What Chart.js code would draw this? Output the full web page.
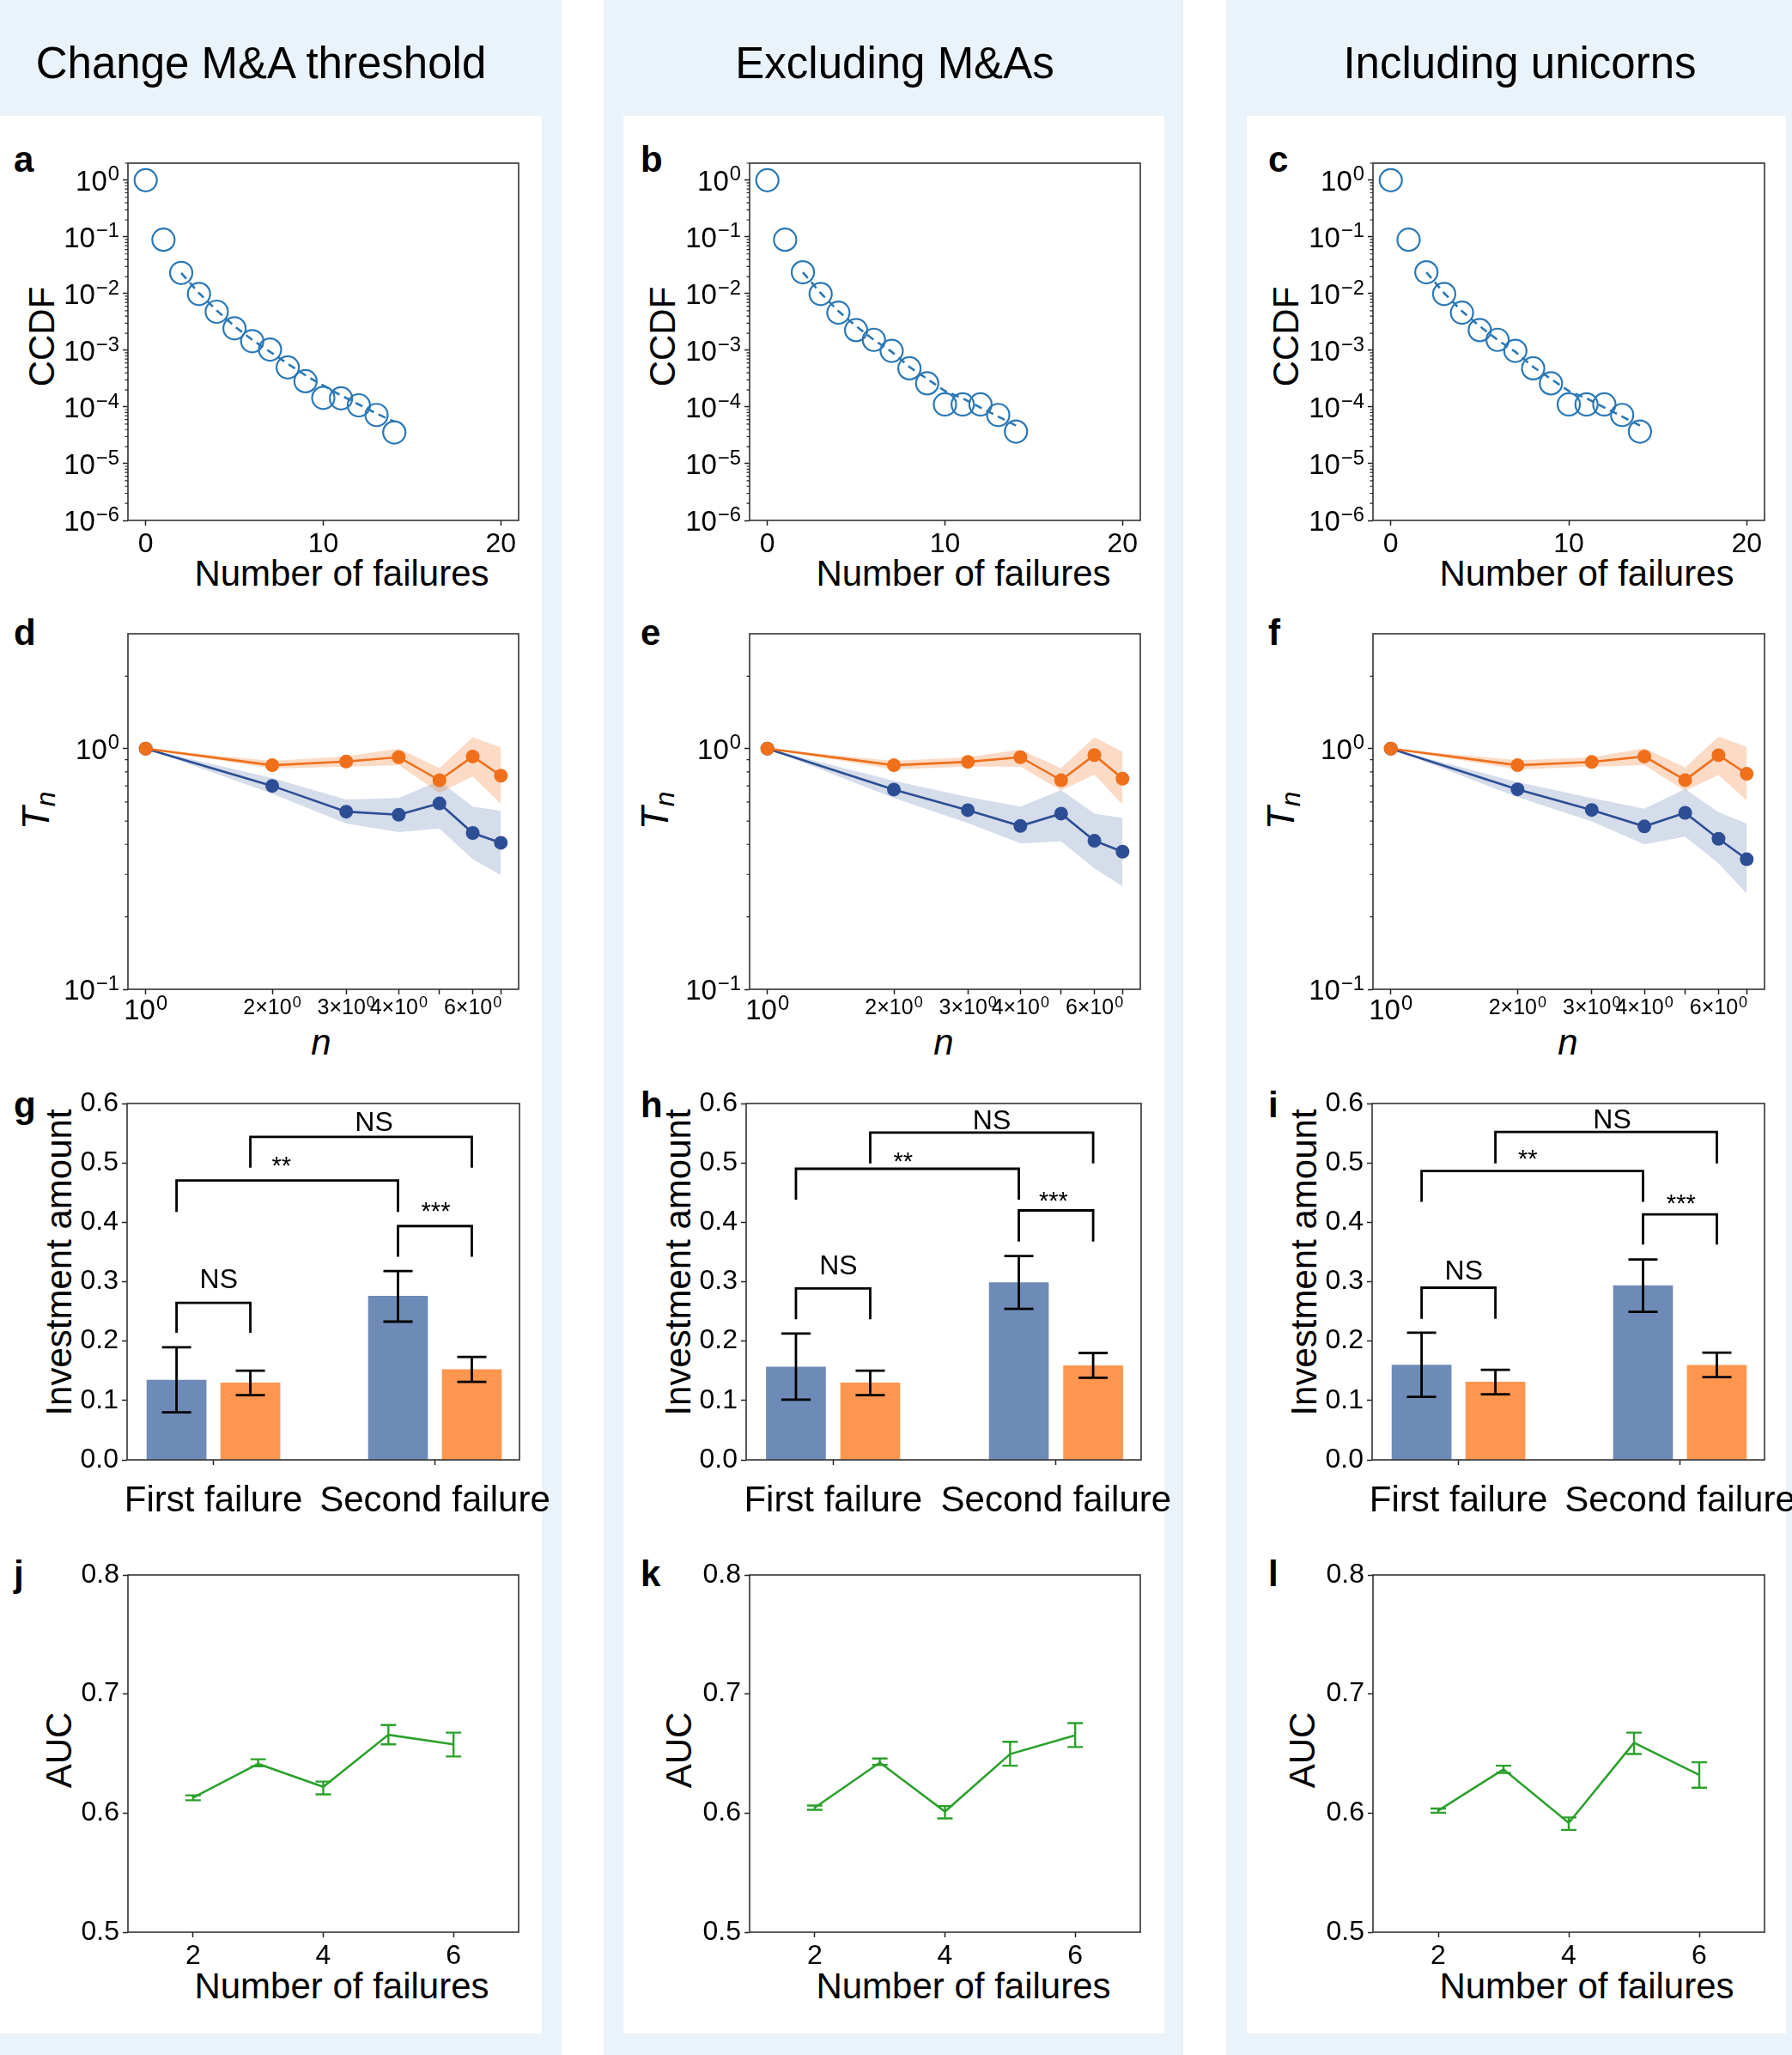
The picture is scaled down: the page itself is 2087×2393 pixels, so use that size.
<!DOCTYPE html>
<html>
<head>
<meta charset="utf-8">
<title>Robustness checks</title>
<script src="https://cdn.jsdelivr.net/npm/chart.js@4.4.1/dist/chart.umd.min.js"></script>
<style>
  html, body { margin:0; padding:0; background:#ffffff; }
  #root { position:relative; width:2087px; height:2393px; overflow:hidden; background:#ffffff;
          font-family:"Liberation Sans", Arial, Helvetica, sans-serif; color:#000; }
  .col { position:absolute; top:0; height:2393px; background:#eaf2fa; }
  .panel { position:absolute; background:#ffffff; }
  .t { position:absolute; white-space:nowrap; line-height:1; }
  canvas { position:absolute; }
</style>
</head>
<body>
<div id="root"></div>
<script>
// ======================= DATA =======================
const columnTitles = ['Change M&A threshold', 'Excluding M&As', 'Including unicorns'];
const panelLetters = [['a','d','g','j'], ['b','e','h','k'], ['c','f','i','l']];

// ---- Row 1: CCDF of number of failures ----
const failuresX = [0,1,2,3,4,5,6,7,8,9,10,11,12,13,14];
const ccdfA = [1.0,0.0891,0.0232,0.00986,0.00479,0.00244,0.00145,0.00103,0.000499,0.000285,0.000145,0.000142,0.000107,0.0000723,0.0000356];
const ccdfB = [1.0,0.0891,0.0238,0.00986,0.00461,0.00227,0.00153,0.000977,0.000481,0.000261,0.000111,0.000111,0.000111,0.0000723,0.0000369];
const ccdfC = [1.0,0.0891,0.0238,0.00986,0.00461,0.00227,0.00153,0.000977,0.000481,0.000261,0.000111,0.000111,0.000111,0.0000723,0.0000369];
const fitX = [2,3,4,5,6,7,8,9,10,11,12,13,14];
const fitA = [0.0232,0.01023,0.00504,0.00266,0.00153,0.000942,0.000578,0.000363,0.000239,0.00016,0.000111,0.0000767,0.0000552];
const fitB = [0.0238,0.01023,0.00491,0.00266,0.00153,0.000942,0.00051,0.000313,0.000192,0.000142,0.000098,0.0000679,0.0000471];
const fitC = [0.0238,0.01023,0.00491,0.00266,0.00153,0.000942,0.00051,0.000313,0.000192,0.000142,0.000098,0.0000679,0.0000471];
const ccdfXTicks = [0, 10, 20];
const ccdfYTickValues = [1e-6, 1e-5, 1e-4, 1e-3, 1e-2, 1e-1, 1];
const ccdfYTickBase = ['10','10','10','10','10','10','10'];
const ccdfYTickExp  = ['\u22126','\u22125','\u22124','\u22123','\u22122','\u22121','0'];

// ---- Row 2: T_n ----
const nValues = [1,2,3,4,5,6,7];
const nTickBase = ['10','2\u00D710','3\u00D710','4\u00D710','','6\u00D710',''];
const nTickExp  = ['0','0','0','0','','0',''];
const tnYTickValues = [0.1, 1];
const tnYTickBase = ['10','10'];
const tnYTickExp  = ['\u22121','0'];

const tnBlueD     = [1,0.700,0.547,0.531,0.592,0.446,0.406];
const tnBlueLoD   = [1,0.650,0.488,0.450,0.466,0.347,0.298];
const tnBlueHiD   = [1,0.755,0.615,0.624,0.735,0.574,0.551];
const tnOrangeD   = [1,0.853,0.884,0.921,0.739,0.927,0.772];
const tnOrangeLoD = [1,0.826,0.842,0.853,0.655,0.765,0.590];
const tnOrangeHiD = [1,0.890,0.929,1.000,0.830,1.115,1.013];

const tnBlueE     = [1,0.676,0.555,0.477,0.537,0.414,0.373];
const tnBlueLoE   = [1,0.624,0.490,0.404,0.412,0.318,0.268];
const tnBlueHiE   = [1,0.735,0.630,0.574,0.672,0.537,0.515];
const tnOrangeE   = [1,0.853,0.881,0.921,0.739,0.940,0.750];
const tnOrangeLoE = [1,0.820,0.842,0.842,0.670,0.780,0.585];
const tnOrangeHiE = [1,0.890,0.920,0.990,0.830,1.115,0.970];

const tnBlueF     = [1,0.677,0.556,0.475,0.541,0.422,0.347];
const tnBlueLoF   = [1,0.629,0.498,0.400,0.431,0.333,0.250];
const tnBlueHiF   = [1,0.725,0.623,0.562,0.680,0.544,0.488];
const tnOrangeF   = [1,0.853,0.880,0.927,0.740,0.939,0.786];
const tnOrangeLoF = [1,0.819,0.842,0.853,0.668,0.776,0.610];
const tnOrangeHiF = [1,0.894,0.919,1.003,0.835,1.121,1.019];

// ---- Row 3: investment amount ----
const barCategories = ['First failure', 'Second failure'];
const investYTicks = [0, 0.1, 0.2, 0.3, 0.4, 0.5, 0.6];
const investBlueG = [0.1344, 0.2755], investBlueLoG = [0.0802, 0.2328], investBlueHiG = [0.1896, 0.3178];
const investOrangeG = [0.1296, 0.1522], investOrangeLoG = [0.1090, 0.1315], investOrangeHiG = [0.1502, 0.1733];
const investBlueH = [0.1565, 0.2986], investBlueLoH = [0.1013, 0.2544], investBlueHiH = [0.2126, 0.3432];
const investOrangeH = [0.1296, 0.1584], investOrangeLoH = [0.1090, 0.1382], investOrangeHiH = [0.1502, 0.1800];
const investBlueI = [0.1598, 0.2933], investBlueLoI = [0.1061, 0.2491], investBlueHiI = [0.2141, 0.3374];
const investOrangeI = [0.1310, 0.1594], investOrangeLoI = [0.1104, 0.1392], investOrangeHiI = [0.1517, 0.1805];
// significance brackets: bar index pairs (0 blue-first, 1 orange-first, 2 blue-second, 3 orange-second)
const bracketPairs  = [[0,1],[0,2],[1,3],[2,3]];
const bracketLabels = ['NS','**','NS','***'];
const bracketTopG = [0.2645,0.4704,0.5438,0.3936], bracketLegG = [0.214,0.4176,0.492,0.3418];
const bracketLabelYG = [0.305,0.5054,0.570,0.4286], bracketLabelXG = [0.024,0.307,0.725,1.004];
const bracketTopH = [0.2885,0.4901,0.551,0.420], bracketLegH = [0.2366,0.4382,0.4992,0.3677];
const bracketLabelYH = [0.3293,0.5126,0.5726,0.4464], bracketLabelXH = [0.024,0.314,0.712,0.989];
const bracketTopI = [0.2899,0.4862,0.552,0.4133], bracketLegI = [0.2376,0.4344,0.4992,0.3624];
const bracketLabelYI = [0.3206,0.5165,0.574,0.4416], bracketLabelXI = [0.024,0.313,0.694,1.005];

// ---- Row 4: AUC ----
const aucX = [2,3,4,5,6];
const aucXTicks = [2,4,6];
const aucYTicks = [0.5,0.6,0.7,0.8];
const aucJ = [0.6129,0.6414,0.6221,0.6658,0.6578], aucLoJ = [0.6108,0.6393,0.6157,0.6578,0.6476], aucHiJ = [0.6149,0.6452,0.6265,0.6740,0.6676];
const aucK = [0.6046,0.6424,0.6013,0.6496,0.6653], aucLoK = [0.6028,0.6404,0.5956,0.6398,0.6555], aucHiK = [0.6064,0.6458,0.6059,0.6599,0.6756];
const aucL = [0.6021,0.6368,0.5918,0.6591,0.6321], aucLoL = [0.6003,0.6337,0.5859,0.6496,0.6213], aucHiL = [0.6039,0.6398,0.5964,0.6676,0.6427];

// ======================= STYLE / LAYOUT =======================
const FONT = '"Liberation Sans", Arial, Helvetica, sans-serif';
const CCDF_BLUE = '#2a78b6';
const TN_BLUE = '#2d4e94', TN_ORANGE = '#ef6f1b';
const BLUE_BAND = 'rgba(45,78,148,0.2)', ORANGE_BAND = 'rgba(239,111,27,0.25)';
const BAR_BLUE = '#6e8ab7', BAR_ORANGE = '#fe964f';
const AUC_GREEN = '#2ca02c';
const SPINE = '#333333';
const TICK_SIZE = 32;
const GROUP_OFFSET = 1/6;
const BAR_PX = 69;

const COLS_X = [[149,604],[873,1328],[1599,2055]];
const BAR_COLS_X = [[148,605],[869,1329],[1598,2055]];
const ROWS_Y = [[190,606],[738,1152],[1285,1700],[1834,2250]];
const ML = 140, MR = 70, MT = 40, MB = 100;

const root = document.getElementById('root');

function rect(x, y, w, h, cls) {
  const d = document.createElement('div');
  d.className = cls;
  d.style.left = x + 'px'; d.style.top = y + 'px';
  d.style.width = w + 'px'; d.style.height = h + 'px';
  root.appendChild(d);
}
function textBaseline(html, cx, baseline, size, extra) {
  const d = document.createElement('div');
  d.className = 't';
  d.innerHTML = html;
  d.style.fontSize = size + 'px';
  d.style.left = cx + 'px';
  d.style.top = (baseline - 0.8465 * size) + 'px';
  d.style.transform = 'translateX(-50%)';
  if (extra) Object.assign(d.style, extra);
  root.appendChild(d);
}
function textLeft(html, left, baseline, size, extra) {
  const d = document.createElement('div');
  d.className = 't';
  d.innerHTML = html;
  d.style.fontSize = size + 'px';
  d.style.left = left + 'px';
  d.style.top = (baseline - 0.8465 * size) + 'px';
  if (extra) Object.assign(d.style, extra);
  root.appendChild(d);
}
function textRot(html, cx, cy, size, extra) {
  const d = document.createElement('div');
  d.className = 't';
  d.innerHTML = html;
  d.style.fontSize = size + 'px';
  d.style.left = cx + 'px';
  d.style.top = cy + 'px';
  d.style.transform = 'translate(-50%,-50%) rotate(-90deg)';
  if (extra) Object.assign(d.style, extra);
  root.appendChild(d);
}

// backgrounds
rect(0, 0, 654, 2393, 'col');
rect(703, 0, 675, 2393, 'col');
rect(1428, 0, 659, 2393, 'col');
rect(0, 135, 631, 2233, 'panel');
rect(726, 135, 630, 2233, 'panel');
rect(1452, 135, 628, 2233, 'panel');

// headers
const headerCX = [304, 1042, 1770];
columnTitles.forEach((t, i) => textBaseline(t.replace('&','&amp;'), headerCX[i], 91, 51));

// panel letters
const letterLeft = [16, 746, 1477];
const letterBase = [201, 752, 1302, 1848];
panelLetters.forEach((col, c) => col.forEach((ch, r) =>
  textLeft(ch, letterLeft[c], letterBase[r], 42, {fontWeight: 'bold'})));

// axis titles
const ccdfLabelX = [48.8, 772, 1498];
const tnLabelX = [45, 766, 1495];
const invLabelX = [68.5, 789.5, 1518.5];
const aucLabelX = [69, 791, 1517];
const numFailCX = [398, 1122, 1848];
const nLabelCX = [374, 1099, 1826];
for (let c = 0; c < 3; c++) {
  textRot('CCDF', ccdfLabelX[c], 392, 42);
  textBaseline('Number of failures', numFailCX[c], 683, 42);
  textRot('<i>T</i><sub style="font-size:0.72em;font-style:italic;vertical-align:-0.2em">n</sub>', tnLabelX[c], 944, 44);
  textBaseline('<i>n</i>', nLabelCX[c], 1229, 42);
  textRot('Investment amount', invLabelX[c], 1470, 42);
  textRot('AUC', aucLabelX[c], 2038, 42);
  textBaseline('Number of failures', numFailCX[c], 2328, 42);
}

// ======================= CHART HELPERS =======================
const framePlugin = {
  id: 'frame',
  afterDatasetsDraw(chart) {
    const a = chart.chartArea, ctx = chart.ctx;
    ctx.save();
    ctx.strokeStyle = SPINE; ctx.lineWidth = 1.6;
    ctx.strokeRect(a.left, a.top, a.right - a.left, a.bottom - a.top);
    ctx.restore();
  }
};
function minorTicksPlugin(values, len) {
  return {
    id: 'minorTicks',
    afterDraw(chart) {
      const ys = chart.scales.y, a = chart.chartArea, ctx = chart.ctx;
      ctx.save(); ctx.strokeStyle = '#222'; ctx.lineWidth = 1.2; ctx.beginPath();
      values.forEach(v => {
        const p = ys.getPixelForValue(v);
        if (p < a.top - 0.5 || p > a.bottom + 0.5) return;
        ctx.moveTo(a.left - len, p); ctx.lineTo(a.left, p);
      });
      ctx.stroke(); ctx.restore();
    }
  };
}
// power-of-ten tick labels (base + raised exponent) placed through the scale
function powerLabelsPlugin(axis, values, bases, exps, sizeFn, dropFn) {
  return {
    id: 'powerLabels_' + axis,
    afterDraw(chart) {
      const sc = chart.scales[axis], a = chart.chartArea, ctx = chart.ctx;
      ctx.save(); ctx.fillStyle = '#000'; ctx.textAlign = 'left'; ctx.textBaseline = 'alphabetic';
      values.forEach((v, i) => {
        if (!bases[i]) return;
        const p = sc.getPixelForValue(v);
        const F = sizeFn(v), Fe = F * 0.72;
        ctx.font = F + 'px ' + FONT; const wb = ctx.measureText(bases[i]).width;
        ctx.font = Fe + 'px ' + FONT; const we = ctx.measureText(exps[i]).width;
        let x0, yb;
        if (axis === 'y') { x0 = a.left - 10 - wb - we - 1; yb = p + 0.358 * F; }
        else { x0 = p - (wb + we + 1) / 2; yb = a.bottom + dropFn(v); }
        ctx.font = F + 'px ' + FONT; ctx.fillText(bases[i], x0, yb);
        ctx.font = Fe + 'px ' + FONT; ctx.fillText(exps[i], x0 + wb + 1, yb - 0.34 * F);
      });
      ctx.restore();
    }
  };
}
function errPlugin(sets) {
  return {
    id: 'errbars',
    afterDatasetsDraw(chart) {
      const xs = chart.scales.x, ys = chart.scales.y, ctx = chart.ctx;
      sets.forEach(s => {
        ctx.save(); ctx.strokeStyle = s.color; ctx.lineWidth = s.width; ctx.beginPath();
        s.x.forEach((xv, i) => {
          const px = xs.getPixelForValue(xv);
          const p1 = ys.getPixelForValue(s.lo[i]), p2 = ys.getPixelForValue(s.hi[i]);
          ctx.moveTo(px, p1); ctx.lineTo(px, p2);
          ctx.moveTo(px - s.cap / 2, p1); ctx.lineTo(px + s.cap / 2, p1);
          ctx.moveTo(px - s.cap / 2, p2); ctx.lineTo(px + s.cap / 2, p2);
        });
        ctx.stroke(); ctx.restore();
      });
    }
  };
}
function bracketPlugin(barX, tops, legs, labelX, labelY) {
  return {
    id: 'brackets',
    afterDatasetsDraw(chart) {
      const xs = chart.scales.x, ys = chart.scales.y, ctx = chart.ctx;
      ctx.save();
      ctx.strokeStyle = '#000'; ctx.lineWidth = 2.8; ctx.lineJoin = 'miter';
      bracketPairs.forEach((pr, i) => {
        const x1 = xs.getPixelForValue(barX[pr[0]]), x2 = xs.getPixelForValue(barX[pr[1]]);
        const yt = ys.getPixelForValue(tops[i]), yl = ys.getPixelForValue(legs[i]);
        ctx.beginPath();
        ctx.moveTo(x1, yl); ctx.lineTo(x1, yt); ctx.lineTo(x2, yt); ctx.lineTo(x2, yl);
        ctx.stroke();
        const lab = bracketLabels[i];
        const star = lab.indexOf('*') >= 0;
        const size = star ? 29 : 32;
        ctx.font = size + 'px ' + FONT;
        ctx.fillStyle = '#000'; ctx.textAlign = 'center'; ctx.textBaseline = 'alphabetic';
        const cy = ys.getPixelForValue(labelY[i]);
        ctx.fillText(lab, xs.getPixelForValue(labelX[i]), cy + (star ? 0.57 : 0.358) * size);
      });
      ctx.restore();
    }
  };
}

function gridOpts() {
  return { display: true, drawOnChartArea: false, drawTicks: true, tickLength: 6,
           tickWidth: 1.5, tickColor: '#222', offset: false };
}
function xAxis(type, min, max, tickVals, labelFn, font, pad, showLabels) {
  return {
    type: type, min: min, max: max, bounds: 'data', offset: false, position: 'bottom',
    afterBuildTicks: s => { s.ticks = tickVals.map(v => ({ value: v })); },
    afterFit: s => { s.height = MB; },
    grid: gridOpts(), border: { display: false },
    ticks: { display: showLabels !== false, autoSkip: false, maxRotation: 0, minRotation: 0, padding: pad,
             color: '#000', font: font, callback: labelFn }
  };
}
function yAxis(type, min, max, tickVals, labelFn, showLabels) {
  return {
    type: type, min: min, max: max, bounds: 'data', position: 'left',
    afterBuildTicks: s => { s.ticks = tickVals.map(v => ({ value: v })); },
    afterFit: s => { s.width = ML; },
    grid: gridOpts(), border: { display: false },
    ticks: { display: showLabels !== false, autoSkip: false, padding: 4, color: '#000',
             font: { family: FONT, size: TICK_SIZE }, callback: labelFn }
  };
}
function makeChart(L, T, R, B, config) {
  const cv = document.createElement('canvas');
  const w = R - L + ML + MR, h = B - T + MT + MB;
  cv.width = w; cv.height = h;
  cv.style.left = (L - ML) + 'px'; cv.style.top = (T - MT) + 'px';
  cv.style.width = w + 'px'; cv.style.height = h + 'px';
  root.appendChild(cv);
  config.options = Object.assign({
    responsive: false, maintainAspectRatio: false, animation: false, events: [],
    layout: { padding: { left: 0, top: MT, right: MR, bottom: 0 } }
  }, config.options);
  config.options.plugins = { legend: { display: false }, tooltip: { enabled: false } };
  return new Chart(cv, config);
}
const pts = (xs, ys) => xs.map((x, i) => ({ x: x, y: ys[i] }));

// ---- Row 1 ----
const ccdfMinor = [];
for (let k = -6; k <= 0; k++) for (let m = 2; m <= 9; m++) ccdfMinor.push(m * Math.pow(10, k));
function ccdfChart(col, ys, fitYs) {
  const [L, R] = COLS_X[col], [T, B] = ROWS_Y[0];
  makeChart(L, T, R, B, {
    type: 'line',
    data: { datasets: [
      { data: pts(failuresX, ys), showLine: false, pointRadius: 13, pointBorderWidth: 2.2,
        pointBorderColor: CCDF_BLUE, pointBackgroundColor: 'rgba(0,0,0,0)', borderColor: CCDF_BLUE, clip: false },
      { data: pts(fitX, fitYs), borderColor: CCDF_BLUE, borderWidth: 2.6, borderDash: [9, 6],
        pointRadius: 0, fill: false, tension: 0 }
    ]},
    options: { scales: {
      x: xAxis('linear', -1, 21, ccdfXTicks, v => String(v), { family: FONT, size: TICK_SIZE }, 3),
      y: yAxis('logarithmic', 1e-6, 2, ccdfYTickValues, v => '', false)
    }},
    plugins: [framePlugin, minorTicksPlugin(ccdfMinor, 3.5),
      powerLabelsPlugin('y', ccdfYTickValues, ccdfYTickBase, ccdfYTickExp, v => 33, v => 0)]
  });
}
ccdfChart(0, ccdfA, fitA);
ccdfChart(1, ccdfB, fitB);
ccdfChart(2, ccdfC, fitC);

// ---- Row 2 ----
const tnMinor = [0.2,0.3,0.4,0.5,0.6,0.7,0.8,0.9,2];
function tnChart(col, blue, blueLo, blueHi, orange, orangeLo, orangeHi) {
  const [L, R] = COLS_X[col], [T, B] = ROWS_Y[1];
  const clear = 'rgba(0,0,0,0)';
  makeChart(L, T, R, B, {
    type: 'line',
    data: { datasets: [
      { data: pts(nValues, blueLo), borderColor: clear, borderWidth: 0, pointRadius: 0, fill: false, order: 3 },
      { data: pts(nValues, blueHi), borderColor: clear, borderWidth: 0, pointRadius: 0, fill: '-1', backgroundColor: BLUE_BAND, order: 3 },
      { data: pts(nValues, orangeLo), borderColor: clear, borderWidth: 0, pointRadius: 0, fill: false, order: 2 },
      { data: pts(nValues, orangeHi), borderColor: clear, borderWidth: 0, pointRadius: 0, fill: '-1', backgroundColor: ORANGE_BAND, order: 2 },
      { data: pts(nValues, blue), borderColor: TN_BLUE, backgroundColor: TN_BLUE, borderWidth: 2.6,
        pointRadius: 8, pointBackgroundColor: TN_BLUE, pointBorderWidth: 0, fill: false, order: 1, clip: false },
      { data: pts(nValues, orange), borderColor: TN_ORANGE, backgroundColor: TN_ORANGE, borderWidth: 2.6,
        pointRadius: 8, pointBackgroundColor: TN_ORANGE, pointBorderWidth: 0, fill: false, order: 0, clip: false }
    ]},
    options: { scales: {
      x: xAxis('logarithmic', 0.9074, 7.715, nValues, v => '', { family: FONT, size: 25 }, 3, false),
      y: yAxis('logarithmic', 0.1, 3, tnYTickValues, v => '', false)
    }},
    plugins: [framePlugin, minorTicksPlugin(tnMinor, 3.5),
      powerLabelsPlugin('y', tnYTickValues, tnYTickBase, tnYTickExp, v => 33, v => 0),
      powerLabelsPlugin('x', nValues, nTickBase, nTickExp, v => (v === 1 ? 33 : 25), v => (v === 1 ? 35 : 29))]
  });
}
tnChart(0, tnBlueD, tnBlueLoD, tnBlueHiD, tnOrangeD, tnOrangeLoD, tnOrangeHiD);
tnChart(1, tnBlueE, tnBlueLoE, tnBlueHiE, tnOrangeE, tnOrangeLoE, tnOrangeHiE);
tnChart(2, tnBlueF, tnBlueLoF, tnBlueHiF, tnOrangeF, tnOrangeLoF, tnOrangeHiF);

// ---- Row 3 ----
function barChart(col, blue, blueLo, blueHi, orange, orangeLo, orangeHi, tops, legs, labX, labY) {
  const [L, R] = BAR_COLS_X[col], [T, B] = ROWS_Y[2];
  const catIdx = barCategories.map((c, i) => i);
  const bx = catIdx.map(i => i - GROUP_OFFSET), ox = catIdx.map(i => i + GROUP_OFFSET);
  const allBarX = [bx[0], ox[0], bx[1], ox[1]];
  makeChart(L, T, R, B, {
    type: 'bar',
    data: { datasets: [
      { data: pts(bx, blue), backgroundColor: BAR_BLUE, barThickness: BAR_PX, grouped: false },
      { data: pts(ox, orange), backgroundColor: BAR_ORANGE, barThickness: BAR_PX, grouped: false }
    ]},
    options: { scales: {
      x: xAxis('linear', -0.39, 1.382, catIdx, v => barCategories[v] || '', { family: FONT, size: 42 }, 17),
      y: yAxis('linear', 0, 0.6, investYTicks, v => v.toFixed(1))
    }},
    plugins: [framePlugin,
      errPlugin([{ x: bx, lo: blueLo, hi: blueHi, color: '#000', width: 2.8, cap: 34 },
                 { x: ox, lo: orangeLo, hi: orangeHi, color: '#000', width: 2.8, cap: 34 }]),
      bracketPlugin(allBarX, tops, legs, labX, labY)]
  });
}
barChart(0, investBlueG, investBlueLoG, investBlueHiG, investOrangeG, investOrangeLoG, investOrangeHiG,
         bracketTopG, bracketLegG, bracketLabelXG, bracketLabelYG);
barChart(1, investBlueH, investBlueLoH, investBlueHiH, investOrangeH, investOrangeLoH, investOrangeHiH,
         bracketTopH, bracketLegH, bracketLabelXH, bracketLabelYH);
barChart(2, investBlueI, investBlueLoI, investBlueHiI, investOrangeI, investOrangeLoI, investOrangeHiI,
         bracketTopI, bracketLegI, bracketLabelXI, bracketLabelYI);

// ---- Row 4 ----
function aucChart(col, vals, lo, hi) {
  const [L, R] = COLS_X[col], [T, B] = ROWS_Y[3];
  makeChart(L, T, R, B, {
    type: 'line',
    data: { datasets: [
      { data: pts(aucX, vals), borderColor: AUC_GREEN, borderWidth: 2.6, pointRadius: 0, fill: false, tension: 0 }
    ]},
    options: { scales: {
      x: xAxis('linear', 1, 7, aucXTicks, v => String(v), { family: FONT, size: TICK_SIZE }, 3),
      y: yAxis('linear', 0.5, 0.8, aucYTicks, v => v.toFixed(1))
    }},
    plugins: [framePlugin, errPlugin([{ x: aucX, lo: lo, hi: hi, color: AUC_GREEN, width: 2.4, cap: 18 }])]
  });
}
aucChart(0, aucJ, aucLoJ, aucHiJ);
aucChart(1, aucK, aucLoK, aucHiK);
aucChart(2, aucL, aucLoL, aucHiL);
</script>
</body>
</html>
